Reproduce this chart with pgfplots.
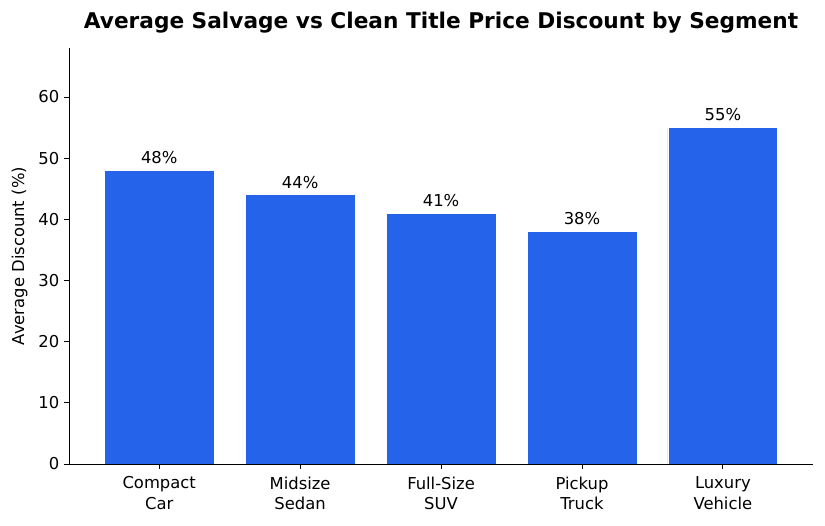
\documentclass[border=0pt]{standalone}
\usepackage{pgfplots}
\pgfplotsset{compat=1.18}
\usepackage{fontspec}
\setmainfont{DejaVu Sans}
\definecolor{barblue}{HTML}{2563EB}

\begin{document}
\begin{tikzpicture}
\begin{axis}[
	name=ax,
	scale only axis,
	width=535.7pt,
	height=299.5pt,
	xmin=-0.64, xmax=4.64,
	ymin=0, ymax=68,
	ytick={0,10,20,30,40,50,60},
	xtick={0,1,2,3,4},
	xticklabels={Compact\\Car, Midsize\\Sedan, Full-Size\\SUV, Pickup\\Truck, Luxury\\Vehicle},
	xticklabel style={align=center, font=\fontsize{11.8}{15}\selectfont, yshift=-2pt},
	yticklabel style={font=\fontsize{11.8}{14.4}\selectfont},
	/pgf/number format/assume math mode=true,
	axis on top,
	axis x line*=bottom,
	axis y line*=left,
	axis line style={-, line width=0.6pt},
	tick align=outside,
	major tick length=3.5pt,
	tick style={line width=0.6pt, black},
	ylabel={Average Discount (\%)},
	ylabel style={font=\fontsize{11.8}{14.4}\selectfont, yshift=1pt},
	title={Average Salvage vs Clean Title Price Discount by Segment},
	title style={font=\fontsize{15.6}{18}\bfseries\selectfont, yshift=1pt},
	nodes near coords={\pgfmathprintnumber{\pgfplotspointmeta}\%},
	nodes near coords style={font=\fontsize{11.8}{14.4}\selectfont, /pgf/number format/assume math mode=true, yshift=1pt},
]
\addplot[ybar, bar width=0.78, fill=barblue, draw=white, line width=0.6pt] coordinates {
	(0,48)
	(1,44)
	(2,41)
	(3,38)
	(4,55)
};
\end{axis}
\path (ax.south west) ++(-49.7pt,-44.6pt) coordinate (bl);
\path (ax.north east) ++(8.6pt,34.6pt) coordinate (tr);
\path[use as bounding box] (bl) rectangle (tr);
\end{tikzpicture}
\end{document}
